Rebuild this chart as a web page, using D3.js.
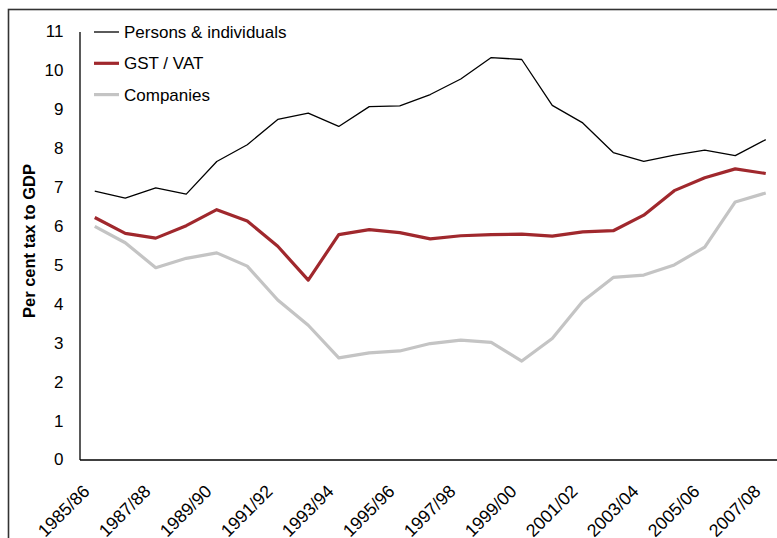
<!DOCTYPE html>
<html>
<head>
<meta charset="utf-8">
<script src="https://cdn.jsdelivr.net/npm/d3@7"></script>
<style>
	body { margin: 0; background: #fff; }
	svg { display: block; font-family: "Liberation Sans", Arial, sans-serif; }
	.axis text { font-size: 17px; fill: #000; }
	.x-axis text { font-size: 17.8px; }
	.axis path { stroke: #000; stroke-width: 1.3; }
	.legend text { font-size: 17px; fill: #000; }
</style>
</head>
<body>
<svg id="chart" width="777" height="538"></svg>
<script>
var years = ['1985/86', '1986/87', '1987/88', '1988/89', '1989/90', '1990/91', '1991/92', '1992/93',
	'1993/94', '1994/95', '1995/96', '1996/97', '1997/98', '1998/99', '1999/00', '2000/01',
	'2001/02', '2002/03', '2003/04', '2004/05', '2005/06', '2006/07', '2007/08'];

var persons = [6.90, 6.72, 6.98, 6.82, 7.66, 8.09, 8.74, 8.90, 8.56, 9.07, 9.09, 9.38,
	9.78, 10.33, 10.28, 9.10, 8.65, 7.89, 7.66, 7.82, 7.95, 7.81, 8.22];
var gstVat = [6.22, 5.81, 5.69, 6.01, 6.42, 6.13, 5.48, 4.61, 5.78, 5.91, 5.83, 5.67,
	5.75, 5.78, 5.79, 5.74, 5.85, 5.88, 6.28, 6.91, 7.24, 7.47, 7.35];
var companies = [5.99, 5.57, 4.93, 5.17, 5.31, 4.97, 4.10, 3.45, 2.61, 2.74, 2.79, 2.98,
	3.07, 3.01, 2.53, 3.11, 4.07, 4.68, 4.74, 5.00, 5.46, 6.62, 6.85];

var yTicks = [0, 1, 2, 3, 4, 5, 6, 7, 8, 9, 10, 11];
var xTicks = years.filter((d, i) => i % 2 === 0);

var series = [
	{name: 'Persons & individuals', values: persons, color: '#000000', width: 1.3},
	{name: 'GST / VAT', values: gstVat, color: '#A0282D', width: 3.2},
	{name: 'Companies', values: companies, color: '#C4C4C4', width: 3.2}
];

var svg = d3.select('#chart');

var xLeft = 79.5;
var step = 30.5;

// outer frame, cut off at right and bottom like the source
svg.append('rect')
	.attr('x', 8.5)
	.attr('y', 9.5)
	.attr('width', 900)
	.attr('height', 700)
	.attr('fill', 'none')
	.attr('stroke', '#333')
	.attr('stroke-width', 1.6);

var xScale = d3.scaleBand()
	.domain(years)
	.range([xLeft, xLeft + step * years.length]);

var yScale = d3.scaleLinear()
	.domain([0, 11])
	.range([459.5, 31.5]);

var xPos = d => xScale(d) + xScale.bandwidth() / 2;

var yAxis = d3.axisLeft(yScale)
	.tickValues(yTicks)
	.tickSizeInner(0)
	.tickSizeOuter(0)
	.tickPadding(16);

svg.append('g')
	.attr('class', 'axis y-axis')
	.attr('transform', `translate(${xLeft}, 0)`)
	.call(yAxis);

var xAxis = d3.axisBottom(xScale)
	.tickValues(xTicks)
	.tickSizeInner(0)
	.tickSizeOuter(0);

var gx = svg.append('g')
	.attr('class', 'axis x-axis')
	.attr('transform', `translate(0, ${yScale(0)})`)
	.call(xAxis);

gx.selectAll('.tick text')
	.attr('y', 0)
	.attr('dy', 0)
	.attr('transform', 'translate(-4, 33) rotate(-45)')
	.style('text-anchor', 'end');

svg.append('text')
	.text('Per cent tax to GDP')
	.attr('transform', 'translate(34.5, 241) rotate(-90)')
	.style('text-anchor', 'middle')
	.style('font-size', '16.5px')
	.style('font-weight', 700);

var line = d3.line()
	.x((d, i) => xPos(years[i]))
	.y(d => yScale(d));

svg.selectAll('.series')
	.data(series.slice().reverse())
	.enter()
	.append('path')
	.attr('class', 'series')
	.attr('d', d => line(d.values))
	.attr('fill', 'none')
	.attr('stroke', d => d.color)
	.attr('stroke-width', d => d.width)
	.attr('stroke-linejoin', 'round');

var legend = svg.append('g')
	.attr('class', 'legend');

var rows = legend.selectAll('g')
	.data(series)
	.enter()
	.append('g')
	.attr('transform', (d, i) => `translate(94, ${32 + i * 31.3})`);

rows.append('line')
	.attr('x1', 0)
	.attr('x2', 25)
	.attr('stroke', d => d.color)
	.attr('stroke-width', d => d.width);

rows.append('text')
	.text(d => d.name)
	.attr('x', 30)
	.attr('dy', '0.35em');
</script>
</body>
</html>
